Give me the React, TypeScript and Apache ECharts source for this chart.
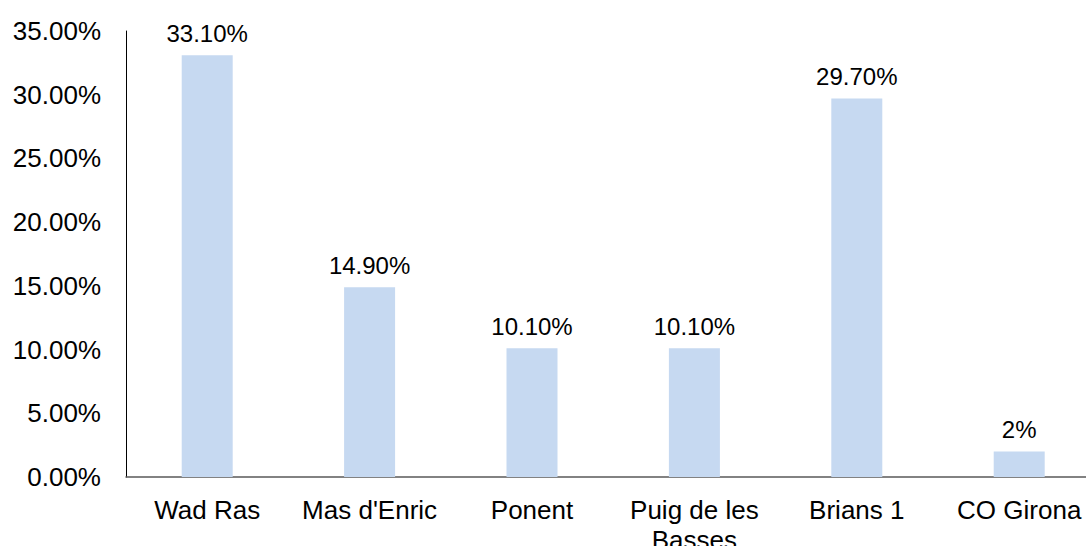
import React, { useEffect, useRef } from "react";
import * as echarts from "echarts";

const categories = ["Wad Ras", "Mas d'Enric", "Ponent", "Puig de les\nBasses", "Brians 1", "CO Girona"];
const values = [33.1, 14.9, 10.1, 10.1, 29.7, 2];
const valueLabels = ["33.10%", "14.90%", "10.10%", "10.10%", "29.70%", "2%"];
const yTicks = [0, 5, 10, 15, 20, 25, 30, 35];

const FONT = "'Liberation Sans', Arial, sans-serif";

export default function App() {
  const ref = useRef<HTMLDivElement>(null);
  useEffect(() => {
    if (!ref.current) return;
    const chart = echarts.init(ref.current, undefined, { renderer: "svg" });
    chart.setOption({
      animation: false,
      backgroundColor: "#ffffff",
      grid: {
        left: 126,
        top: 31,
        width: 974.4,
        height: 446,
        containLabel: false,
        outerBoundsMode: "none",
      },
      xAxis: {
        type: "category",
        data: categories,
        axisLine: { show: true, lineStyle: { color: "#595959", width: 1.5 } },
        axisTick: { show: false },
        axisLabel: {
          color: "#000000",
          fontSize: 26,
          fontFamily: FONT,
          margin: 18,
          lineHeight: 30,
          interval: 0,
        },
      },
      yAxis: {
        type: "value",
        min: yTicks[0],
        max: yTicks[yTicks.length - 1],
        interval: 5,
        splitLine: { show: false },
        axisLine: { show: true, lineStyle: { color: "#000000", width: 1 } },
        axisTick: { show: false },
        axisLabel: {
          color: "#000000",
          fontSize: 26,
          fontFamily: FONT,
          margin: 25,
          formatter: (v: number) => v.toFixed(2) + "%",
        },
      },
      series: [
        {
          type: "bar",
          data: values,
          barWidth: 51,
          itemStyle: { color: "#C6D9F1" },
          label: {
            show: true,
            position: "top",
            distance: 10,
            color: "#000000",
            fontSize: 24,
            fontFamily: FONT,
            formatter: (p: any) => valueLabels[p.dataIndex],
          },
        },
      ],
    });
    return () => chart.dispose();
  }, []);
  return (
    <div
      ref={ref}
      style={{ position: "absolute", left: 0, top: 0, width: 1086, height: 546, overflow: "hidden" }}
    />
  );
}
